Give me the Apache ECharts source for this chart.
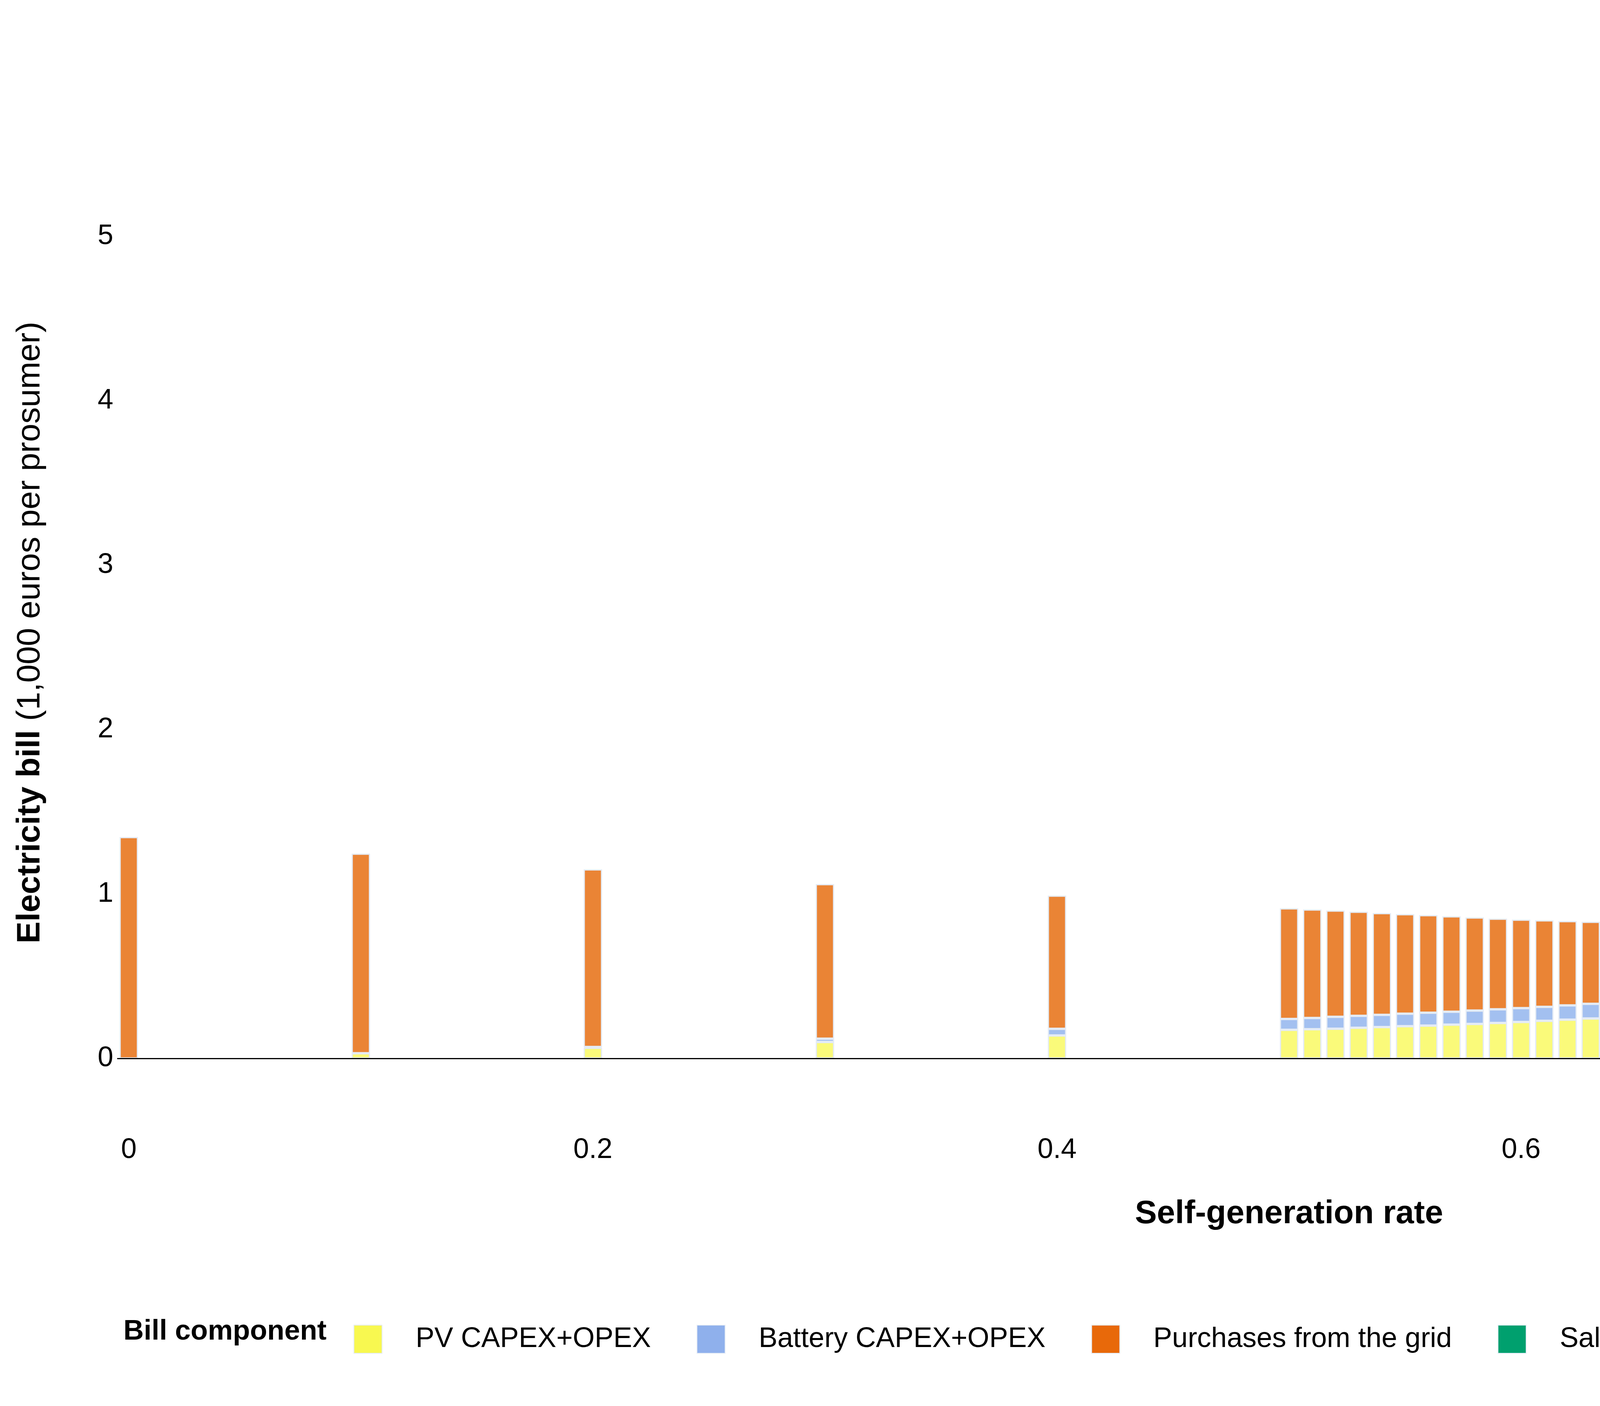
<!DOCTYPE html>
<html>
<head>
<meta charset="utf-8">
<script src="https://cdn.jsdelivr.net/npm/echarts@6/dist/echarts.min.js"></script>
<style>html,body{margin:0;padding:0;background:#fff}#c{width:6600px;height:3600px}</style>
</head>
<body>
<div id="c"></div>
<script>
// Self-generation rates that have a bar
const xVals = [0, 0.1, 0.2, 0.3, 0.4,
  0.50, 0.51, 0.52, 0.53, 0.54, 0.55, 0.56, 0.57, 0.58, 0.59,
  0.60, 0.61, 0.62, 0.63, 0.64, 0.65, 0.66, 0.67, 0.68, 0.69,
  0.70, 0.71, 0.72, 0.73, 0.74, 0.75, 0.76, 0.77, 0.78, 0.79,
  0.80, 0.81, 0.82, 0.83, 0.84, 0.85, 0.86, 0.87, 0.88, 0.89,
  0.90, 1.0];
const pv = [0, 0.032, 0.065, 0.10, 0.14,
  0.174, 0.178, 0.181, 0.187, 0.191, 0.196, 0.200, 0.206, 0.210, 0.216,
  0.222, 0.229, 0.236, 0.243, 0.251, 0.260, 0.272, 0.282, 0.294, 0.307,
  0.321, 0.335, 0.350, 0.367, 0.384, 0.404, 0.423, 0.441, 0.458, 0.481,
  0.507, 0.533, 0.561, 0.591, 0.624, 0.662, 0.693, 0.741, 0.782, 0.824,
  0.860, 0.895];
const battery = [0, 0, 0.005, 0.02, 0.04,
  0.066, 0.068, 0.072, 0.072, 0.074, 0.076, 0.078, 0.078, 0.081, 0.083,
  0.084, 0.085, 0.087, 0.089, 0.091, 0.092, 0.092, 0.095, 0.096, 0.097,
  0.099, 0.100, 0.103, 0.105, 0.107, 0.108, 0.111, 0.116, 0.119, 0.120,
  0.123, 0.125, 0.129, 0.133, 0.138, 0.140, 0.154, 0.156, 0.168, 0.178,
  0.197, 4.385];
const purchases = [1.346, 1.213, 1.08, 0.94, 0.81,
  0.673, 0.660, 0.646, 0.633, 0.619, 0.605, 0.593, 0.580, 0.566, 0.551,
  0.538, 0.526, 0.512, 0.499, 0.484, 0.471, 0.457, 0.443, 0.428, 0.414,
  0.400, 0.387, 0.372, 0.357, 0.343, 0.328, 0.313, 0.300, 0.293, 0.281,
  0.266, 0.255, 0.240, 0.227, 0.212, 0.199, 0.185, 0.174, 0.159, 0.146,
  0.131, 0];
const sales = [0, 0, 0, 0, 0,
  0, 0, 0, 0, 0, 0, 0, 0, 0, 0,
  0, 0, 0, 0, -0.005, -0.007, -0.009, -0.011, -0.014, -0.016,
  -0.018, -0.020, -0.023, -0.026, -0.030, -0.034, -0.038, -0.041, -0.044, -0.049,
  -0.053, -0.060, -0.064, -0.070, -0.078, -0.085, -0.093, -0.101, -0.111, -0.119,
  -0.127, -0.127];
const seriesNames = ['PV CAPEX+OPEX', 'Battery CAPEX+OPEX', 'Purchases from the grid', 'Sales revenues'];
const xTickLabels = ['0', '0.2', '0.4', '0.6', '0.8', '1'];
const yTicks = [0, 1, 2, 3, 4, 5];
const xStep = 0.01;      // spacing of the category slots on the x axis
const xSlots = 101;      // 0 .. 1 in steps of 0.01

const FONT = 'Liberation Sans';
const barColors = ['#FAFA7A', '#A3C0F0', '#EA8435', '#31B286'];
const legendColors = ['#F8F850', '#8FB0EC', '#E8690A', '#00A06E'];
const values = [pv, battery, purchases, sales];

// category slots (axis structure)
const categories = [];
for (let i = 0; i < xSlots; i++) categories.push(String(Math.round(i * xStep * 100) / 100));

const chart = echarts.init(document.getElementById('c'), null, {renderer: 'canvas'});
const series = seriesNames.map((name, k) => {
  const data = categories.map(() => null);
  xVals.forEach((x, i) => {
    const v = values[k][i];
    data[Math.round(x / xStep)] = v === 0 ? null : v;
  });
  return {
    name: name,
    type: 'bar',
    stack: 'bill',
    barWidth: 47,
    itemStyle: {color: barColors[k], borderColor: '#E4EBF5', borderWidth: 3},
    data: data
  };
});
series.push({
  type: 'line', data: [], silent: true,
  markLine: {
    silent: true, symbol: 'none', label: {show: false},
    lineStyle: {color: '#000', width: 3, type: 'solid'},
    data: [{yAxis: 0}]
  }
});

chart.setOption({
  animation: false,
  backgroundColor: '#fff',
  textStyle: {fontFamily: FONT},
  grid: {left: 300, right: 300, top: 352, bottom: 713},
  xAxis: {
    type: 'category', data: categories, boundaryGap: true,
    name: 'Self-generation rate', nameLocation: 'middle', nameGap: 180,
    nameTextStyle: {fontSize: 84, fontWeight: 'bold', color: '#000', fontFamily: FONT},
    axisLine: {show: false, onZero: false},
    axisTick: {show: false},
    splitLine: {show: false},
    axisLabel: {
      interval: (idx, val) => xTickLabels.indexOf(val) >= 0,
      fontSize: 72, color: '#000', margin: 22, fontFamily: FONT
    }
  },
  yAxis: {
    type: 'value', min: -0.42, max: 5.6,
    name: '{b|Electricity bill} (1,000 euros per prosumer)',
    nameLocation: 'middle', nameGap: 180,
    nameTextStyle: {fontSize: 84, color: '#000', fontFamily: FONT,
      rich: {b: {fontSize: 84, fontWeight: 'bold', color: '#000', fontFamily: FONT}}},
    axisLine: {show: false},
    axisTick: {show: false},
    splitLine: {show: false},
    axisLabel: {customValues: yTicks, fontSize: 72, color: '#000', margin: 10, fontFamily: FONT}
  },
  legend: {
    left: 900, top: 3387,
    itemWidth: 72, itemHeight: 72, itemGap: 117,
    icon: 'rect',
    textStyle: {fontSize: 72, color: '#000', fontFamily: FONT, padding: [0, 0, 0, 81]},
    data: seriesNames.map((n, k) => ({name: n, itemStyle: {color: legendColors[k], borderColor: '#E4EBF5', borderWidth: 2}}))
  },
  graphic: [{
    type: 'text', left: 316, top: 3374,
    style: {text: 'Bill component', fontSize: 72, fontWeight: 'bold', fill: '#000', fontFamily: FONT}
  }],
  series: series
});
</script>
</body>
</html>
